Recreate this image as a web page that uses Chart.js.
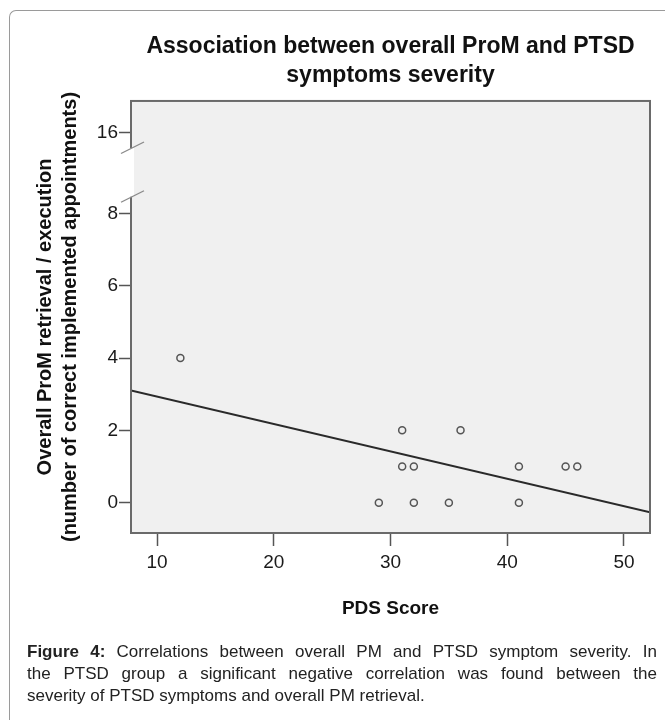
<!DOCTYPE html>
<html>
<head>
<meta charset="utf-8">
<script src="https://cdn.jsdelivr.net/npm/chart.js@4.4.1/dist/chart.umd.min.js"></script>
<style>
  html, body { margin: 0; padding: 0; background: #fff; }
  #wrap { position: relative; width: 665px; height: 720px; overflow: hidden; }
  #frame { position: absolute; left: 9px; top: 10px; width: 700px; height: 760px;
           border-left: 1px solid #9a9a9a; border-top: 1px solid #9a9a9a; border-top-left-radius: 7px; }
  canvas { position: absolute; left: 0; top: 0; }
  #caption { position: absolute; left: 27px; top: 641px; width: 630px;
             font: 17px 'Liberation Sans', Arial, sans-serif; line-height: 22px; color: #222; }
  #caption div { text-align: justify; text-align-last: justify; }
  #caption div.last { text-align-last: left; }
</style>
</head>
<body>
<div id="wrap">
  <div id="frame"></div>
  <canvas id="myChart" width="665" height="720"></canvas>
  <div id="caption">
    <div><b>Figure 4:</b> Correlations between overall PM and PTSD symptom severity. In</div>
    <div>the PTSD group a significant negative correlation was found between the</div>
    <div class="last">severity of PTSD symptoms and overall PM retrieval.</div>
  </div>
</div>
<script>
// values
const pdsScore = [12, 29, 31, 31, 32, 32, 35, 36, 41, 41, 45, 46];
const promScore = [4, 0, 2, 1, 1, 0, 0, 2, 1, 0, 1, 1];
// fit line, ends at the plot edges
const fitX = [7.77, 52.23];
const fitY = [3.1, -0.27];
const xTicks = [10, 20, 30, 40, 50];
const yTicks = [0, 2, 4, 6, 8, 16];

// broken y axis: everything above 8 is squeezed
const breakAt = 8;
const squeeze = 0.28;
function toAxis(v) {
    return v <= breakAt ? v : breakAt + (v - breakAt) * squeeze;
}

Chart.defaults.font.family = "'Liberation Sans', Arial, sans-serif";

const plotFrame = {
    id: 'plotFrame',
    beforeDraw(chart) {
        const { ctx, chartArea: a } = chart;
        ctx.save();
        ctx.fillStyle = '#f0f0f0';
        ctx.fillRect(a.left, a.top, a.width, a.height);
        ctx.restore();
    },
    afterDraw(chart) {
        const { ctx, chartArea: a, scales: { y } } = chart;
        ctx.save();
        ctx.strokeStyle = '#6a6a6a';
        ctx.lineWidth = 2;
        ctx.strokeRect(a.left, a.top, a.width, a.height);
        // gap in the axis with the two slashes
        const yHi = y.getPixelForValue(9.81);
        const yLo = y.getPixelForValue(8.46);
        ctx.fillStyle = '#fff';
        ctx.fillRect(a.left - 1.5, yHi, 4.5, yLo - yHi);
        ctx.strokeStyle = '#8a8a8a';
        ctx.lineWidth = 1.3;
        [yHi, yLo].forEach(py => {
            ctx.beginPath();
            ctx.moveTo(a.left - 10, py + 5.5);
            ctx.lineTo(a.left + 13, py - 6);
            ctx.stroke();
        });
        ctx.restore();
    }
};

let myChart = document.getElementById('myChart').getContext('2d');

let scatterChart = new Chart(myChart, {
    type: 'scatter',
    data: {
        datasets: [{
            type: 'line',
            data: fitX.map((x, i) => ({ x: x, y: fitY[i] })),
            borderColor: '#2a2a2a',
            borderWidth: 2,
            pointRadius: 0,
            fill: false,
            order: 2
        }, {
            data: pdsScore.map((x, i) => ({ x: x, y: promScore[i] })),
            pointRadius: 3.5,
            pointBorderWidth: 1.5,
            pointBorderColor: '#555',
            pointBackgroundColor: 'rgba(0,0,0,0)',
            order: 1
        }]
    },
    options: {
        responsive: false,
        animation: false,
        layout: { padding: { left: 0, right: 15, top: 0, bottom: 0 } },
        plugins: {
            legend: { display: false },
            tooltip: { enabled: false },
            title: {
                display: true,
                fullSize: false,
                text: ['Association between overall ProM and PTSD', 'symptoms severity'],
                color: '#111',
                font: { size: 23, weight: 'bold', lineHeight: 1.26 },
                padding: { top: 32.5, bottom: 10.5 }
            }
        },
        scales: {
            x: {
                type: 'linear',
                min: 7.77,
                max: 52.23,
                afterBuildTicks: s => { s.ticks = xTicks.map(v => ({ value: v })); },
                afterFit: s => { s.height = 187; },
                grid: { drawOnChartArea: false, tickLength: 13, tickColor: '#555', tickWidth: 1.5 },
                border: { display: false },
                ticks: { padding: 5, color: '#1a1a1a', font: { size: 19 } },
                title: {
                    display: true,
                    text: 'PDS Score',
                    color: '#111',
                    font: { size: 19, weight: 'bold', lineHeight: 1.2 },
                    padding: { top: 0, bottom: 100 }
                }
            },
            y: {
                type: 'linear',
                min: -0.84,
                max: 11.11,
                afterBuildTicks: s => { s.ticks = yTicks.map(v => ({ value: toAxis(v) })); },
                afterFit: s => { s.width = 131; },
                grid: { drawOnChartArea: false, tickLength: 12, tickColor: '#555', tickWidth: 1.5 },
                border: { display: false },
                ticks: {
                    padding: 1,
                    color: '#1a1a1a',
                    font: { size: 19 },
                    callback: (v, i) => String(yTicks[i])
                },
                title: {
                    display: true,
                    text: ['Overall ProM retrieval / execution', '(number of correct implemented appointments)'],
                    color: '#111',
                    font: { size: 20, weight: 'bold', lineHeight: 25 / 20 },
                    padding: { top: 32.5, bottom: 0 }
                }
            }
        }
    },
    plugins: [plotFrame]
});
</script>
</body>
</html>
